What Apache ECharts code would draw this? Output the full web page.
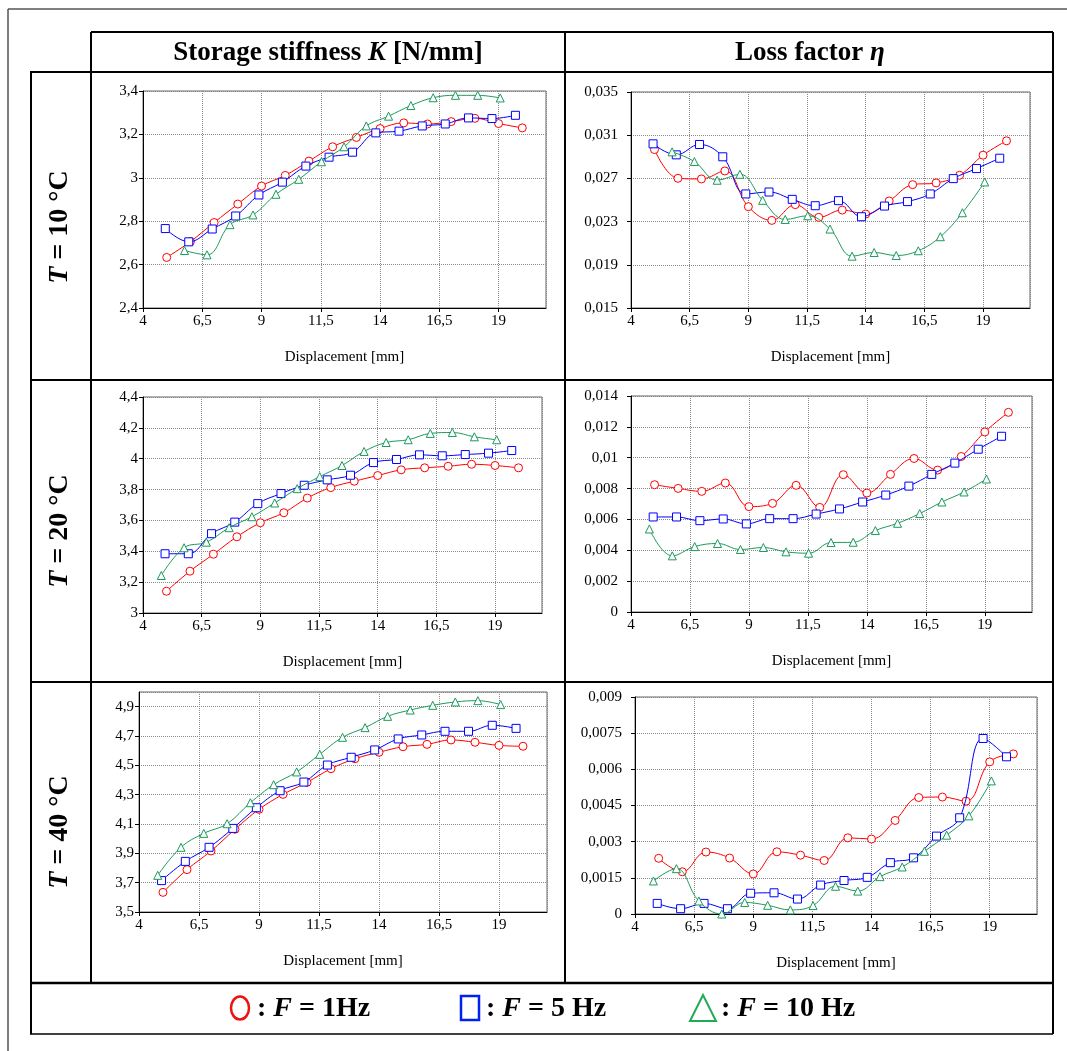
<!DOCTYPE html>
<html>
<head>
<meta charset="utf-8">
<script src="https://cdn.jsdelivr.net/npm/echarts@6/dist/echarts.min.js"></script>
<style>
  html, body { margin: 0; padding: 0; background: #fff; }
  #chart { width: 1067px; height: 1051px; }
</style>
</head>
<body>
<div id="chart"></div>
<script>
// displacement amplitudes [mm] for each frequency
var x1Hz = [5, 6, 7, 8, 9, 10, 11, 12, 13, 14, 15, 16, 17, 18, 19, 20];
var x5Hz = [4.94, 5.93, 6.92, 7.91, 8.89, 9.88, 10.87, 11.85, 12.84, 13.82, 14.80, 15.78, 16.75, 17.73, 18.72, 19.71];
var x10Hz = [4.78, 5.75, 6.70, 7.67, 8.64, 9.61, 10.57, 11.53, 12.48, 13.42, 14.36, 15.30, 16.24, 17.18, 18.12, 19.07];

// storage stiffness K [N/mm]
var k10_1Hz = [2.633, 2.706, 2.794, 2.879, 2.962, 3.011, 3.077, 3.143, 3.186, 3.227, 3.253, 3.248, 3.259, 3.274, 3.250, 3.230];
var k10_5Hz = [2.766, 2.705, 2.764, 2.824, 2.921, 2.980, 3.054, 3.095, 3.118, 3.207, 3.215, 3.239, 3.248, 3.276, 3.273, 3.288];
var k10_10Hz = [null, 2.665, 2.645, 2.784, 2.829, 2.924, 2.993, 3.074, 3.143, 3.239, 3.284, 3.333, 3.369, 3.380, 3.380, 3.368];

var k20_1Hz = [3.141, 3.271, 3.381, 3.494, 3.585, 3.650, 3.745, 3.813, 3.854, 3.891, 3.928, 3.941, 3.951, 3.964, 3.956, 3.941];
var k20_5Hz = [3.384, 3.384, 3.514, 3.589, 3.709, 3.774, 3.828, 3.863, 3.893, 3.975, 3.995, 4.025, 4.019, 4.027, 4.036, 4.053];
var k20_10Hz = [3.243, 3.423, 3.459, 3.553, 3.624, 3.713, 3.806, 3.884, 3.956, 4.047, 4.105, 4.123, 4.164, 4.170, 4.142, 4.123];

var k40_1Hz = [3.634, 3.789, 3.916, 4.064, 4.200, 4.302, 4.384, 4.477, 4.545, 4.589, 4.627, 4.643, 4.673, 4.657, 4.636, 4.630];
var k40_5Hz = [3.714, 3.845, 3.941, 4.070, 4.211, 4.327, 4.386, 4.502, 4.555, 4.605, 4.680, 4.707, 4.732, 4.732, 4.773, 4.752];
var k40_10Hz = [3.750, 3.941, 4.036, 4.102, 4.245, 4.368, 4.455, 4.575, 4.691, 4.757, 4.834, 4.877, 4.909, 4.932, 4.941, 4.914];

// loss factor eta
var eta10_1Hz = [0.02967, 0.02701, 0.02695, 0.02769, 0.02438, 0.02311, 0.02457, 0.02339, 0.02407, 0.0237, 0.02491, 0.02642, 0.02658, 0.02729, 0.02915, 0.03048];
var eta10_5Hz = [0.0302, 0.02918, 0.03014, 0.029, 0.02556, 0.02574, 0.02506, 0.02447, 0.02494, 0.02345, 0.02444, 0.02485, 0.02556, 0.02698, 0.02791, 0.02887];
var eta10_10Hz = [null, 0.02946, 0.02856, 0.02683, 0.02738, 0.02497, 0.0232, 0.02354, 0.02231, 0.0198, 0.02014, 0.01986, 0.0203, 0.0216, 0.02382, 0.02667];

var eta20_1Hz = [0.00825, 0.00801, 0.00782, 0.00836, 0.00683, 0.00704, 0.00821, 0.00678, 0.0089, 0.00771, 0.00892, 0.00995, 0.0092, 0.01008, 0.01167, 0.01294];
var eta20_5Hz = [0.00616, 0.00616, 0.00592, 0.00603, 0.00571, 0.00605, 0.00605, 0.00635, 0.00668, 0.00713, 0.00758, 0.00816, 0.00892, 0.00965, 0.01055, 0.01139];
var eta20_10Hz = [0.00538, 0.00364, 0.00424, 0.00444, 0.00405, 0.00418, 0.0039, 0.00381, 0.0045, 0.00452, 0.00528, 0.00575, 0.00638, 0.00713, 0.00778, 0.00862];

var eta40_1Hz = [0.00231, 0.00175, 0.00257, 0.00232, 0.00166, 0.00258, 0.00244, 0.00222, 0.00316, 0.00311, 0.00388, 0.00483, 0.00485, 0.00468, 0.00631, 0.00664];
var eta40_5Hz = [0.00044, 0.00022, 0.00044, 0.00022, 0.00086, 0.00088, 0.00062, 0.0012, 0.00139, 0.00152, 0.00213, 0.00233, 0.00323, 0.00399, 0.00728, 0.00652];
var eta40_10Hz = [0.00137, 0.00188, 0.00054, 0, 0.00048, 0.00036, 0.00017, 0.00035, 0.00115, 0.00095, 0.00155, 0.00195, 0.0026, 0.00327, 0.00407, 0.00552];

var RED = "#ff0000", BLUE = "#0000ff", GREEN = "#1c9a5c";
var SERIF = "Liberation Serif";

function fmt(v) {
  return String(Math.round(v * 1e6) / 1e6).replace(".", ",");
}

function pairs(xs, ys) {
  var out = [];
  for (var i = 0; i < xs.length; i++) {
    if (ys[i] !== null) out.push([xs[i], ys[i]]);
  }
  return out;
}

// panel layout: grid rect + y range
var panels = [
  { rect: [143, 91, 403, 217], y: [2.4, 3.4, 0.2], m: 5, d: [k10_1Hz, k10_5Hz, k10_10Hz] },
  { rect: [631, 92, 399, 216], y: [0.015, 0.035, 0.004], m: 13, d: [eta10_1Hz, eta10_5Hz, eta10_10Hz] },
  { rect: [143, 397, 399, 216], y: [3, 4.4, 0.2], m: 5, d: [k20_1Hz, k20_5Hz, k20_10Hz] },
  { rect: [631, 396, 401, 216], y: [0, 0.014, 0.002], m: 13, d: [eta20_1Hz, eta20_5Hz, eta20_10Hz] },
  { rect: [139, 692, 408, 220], y: [3.5, 5.0, 0.2], m: 5, d: [k40_1Hz, k40_5Hz, k40_10Hz] },
  { rect: [635, 697, 402, 217], y: [0, 0.009, 0.0015], m: 13, d: [eta40_1Hz, eta40_5Hz, eta40_10Hz] }
];

var grids = [], xAxes = [], yAxes = [], series = [];
var splitStyle = { show: true, lineStyle: { color: "#8a8a8a", type: "dotted", width: 1 } };
var labelStyle = { color: "#000", fontFamily: SERIF, fontSize: 15 };

panels.forEach(function (p, i) {
  grids.push({
    left: p.rect[0], top: p.rect[1], width: p.rect[2], height: p.rect[3],
    show: true, borderColor: "#666", borderWidth: 1, backgroundColor: "#fff",
    containLabel: false
  });
  xAxes.push({
    type: "value", gridIndex: i, min: 4, max: 21, interval: 2.5,
    name: "Displacement [mm]", nameLocation: "middle", nameGap: 42,
    nameTextStyle: { color: "#000", fontFamily: SERIF, fontSize: 15 },
    axisLine: { lineStyle: { color: "#000", width: 1 } },
    axisTick: { show: true, length: 4, lineStyle: { color: "#000" } },
    axisLabel: Object.assign({ margin: 6, showMaxLabel: false, formatter: fmt }, labelStyle),
    splitLine: splitStyle
  });
  yAxes.push({
    type: "value", gridIndex: i, min: p.y[0], max: p.y[1], interval: p.y[2],
    axisLine: { show: true, lineStyle: { color: "#000", width: 1 } },
    axisTick: { show: true, length: 4, lineStyle: { color: "#000" } },
    axisLabel: Object.assign({ margin: p.m, showMaxLabel: i !== 4, formatter: fmt }, labelStyle),
    splitLine: splitStyle
  });
  var defs = [
    { x: x1Hz, c: RED, s: "circle" },
    { x: x5Hz, c: BLUE, s: "rect" },
    { x: x10Hz, c: GREEN, s: "triangle" }
  ];
  defs.forEach(function (d, j) {
    series.push({
      type: "line", xAxisIndex: i, yAxisIndex: i,
      data: pairs(d.x, p.d[j]),
      smooth: 0.4,
      symbol: d.s, symbolSize: 8, showSymbol: true,
      lineStyle: { color: d.c, width: 1 },
      itemStyle: { color: "#fff", borderColor: d.c, borderWidth: 1 },
      animation: false, silent: true, z: 3 + j
    });
  });
});

// table frame
function hline(x1, x2, y, w, c) {
  return { type: "line", shape: { x1: x1, y1: y, x2: x2, y2: y }, style: { stroke: c || "#000", lineWidth: w || 2 }, z: 100 };
}
function vline(x, y1, y2, w, c) {
  return { type: "line", shape: { x1: x, y1: y1, x2: x, y2: y2 }, style: { stroke: c || "#000", lineWidth: w || 2 }, z: 100 };
}

function rich(size) {
  return {
    b: { fontFamily: SERIF, fontWeight: "bold", fontSize: size, fill: "#000" },
    i: { fontFamily: SERIF, fontWeight: "bold", fontStyle: "italic", fontSize: size, fill: "#000" }
  };
}
function richText(x, y, text, size, rot, align) {
  return {
    type: "text", x: x, y: y, rotation: rot || 0, z: 100,
    style: { text: text, rich: rich(size), align: align || "center", verticalAlign: "middle" }
  };
}

var rowLabels = ["10", "20", "40"];
var rowCenters = [227, 531, 832];

var graphic = [
  // outer gray frame
  hline(8, 1067, 9, 1.5, "#555"),
  vline(8, 9, 1051, 1.5, "#555"),
  // table
  hline(91, 1053, 32),
  hline(30, 1053, 72),
  hline(30, 1053, 380),
  hline(30, 1053, 682),
  hline(30, 1053, 983, 2.5),
  hline(30, 1053, 1034, 1.5),
  vline(31, 72, 1034),
  vline(91, 32, 983),
  vline(565, 32, 983),
  vline(1053, 32, 1034),
  richText(328, 53, "{b|Storage stiffness }{i|K}{b| [N/mm]}", 27),
  richText(810, 53, "{b|Loss factor }{i|η}", 27)
];
rowLabels.forEach(function (t, i) {
  graphic.push(richText(60, rowCenters[i], "{i|T}{b| = " + t + " °C}", 28, Math.PI / 2));
});

// legend
var legendText = [
  { x: 257, t: "{b|: }{i|F}{b| = 1Hz}" },
  { x: 486, t: "{b|: }{i|F}{b| = 5 Hz}" },
  { x: 721, t: "{b|: }{i|F}{b| = 10 Hz}" }
];
graphic.push({ type: "ellipse", shape: { cx: 240, cy: 1008, rx: 9, ry: 11.5 }, style: { fill: "none", stroke: "#ee1111", lineWidth: 2.5 }, z: 100 });
graphic.push({ type: "rect", shape: { x: 461, y: 996, width: 18, height: 24 }, style: { fill: "none", stroke: "#0022ee", lineWidth: 2.5 }, z: 100 });
graphic.push({ type: "polygon", shape: { points: [[703, 995], [690, 1021], [716, 1021]] }, style: { fill: "none", stroke: "#22aa55", lineWidth: 2 }, z: 100 });
legendText.forEach(function (l) {
  graphic.push(richText(l.x, 1009, l.t, 28, 0, "left"));
});

var chart = echarts.init(document.getElementById("chart"), null, { renderer: "canvas" });
chart.setOption({
  animation: false,
  backgroundColor: "#fff",
  grid: grids,
  xAxis: xAxes,
  yAxis: yAxes,
  series: series,
  graphic: graphic
});
</script>
</body>
</html>
